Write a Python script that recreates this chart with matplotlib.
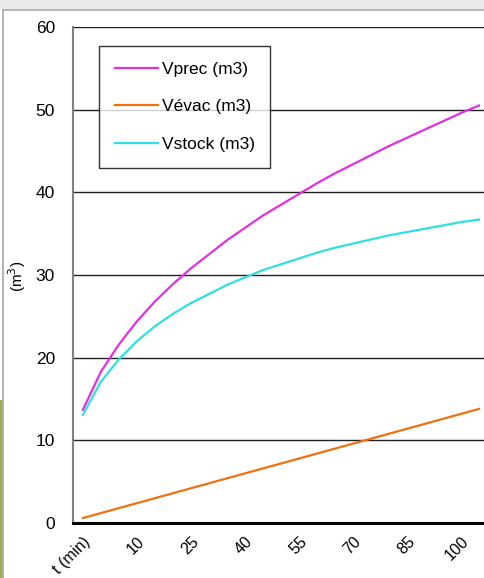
#!/usr/bin/env python

import numpy as np
import matplotlib
matplotlib.use("Agg")
import matplotlib.pyplot as plt
from matplotlib.patches import Rectangle
from matplotlib.lines import Line2D

# categories of the Excel line chart (header row got in as first category)
categories = ["t (min)"] + [str(t) for t in range(0, 110, 5)]

v_prec = [13.7, 18.3, 21.6, 24.4, 26.8, 28.9, 30.8, 32.5, 34.2, 35.7, 37.2, 38.5,
          39.8, 41.1, 42.3, 43.4, 44.5, 45.6, 46.6, 47.6, 48.6, 49.6, 50.5]
v_evac = [0.6, 1.2, 1.8, 2.4, 3.0, 3.6, 4.2, 4.8, 5.4, 6.0, 6.6, 7.2,
          7.8, 8.4, 9.0, 9.6, 10.2, 10.8, 11.4, 12.0, 12.6, 13.2, 13.8]
v_stock = [13.1, 17.1, 19.8, 22.0, 23.8, 25.3, 26.6, 27.7, 28.8, 29.7, 30.6, 31.3,
           32.0, 32.7, 33.3, 33.8, 34.3, 34.8, 35.2, 35.6, 36.0, 36.4, 36.7]

labels = ["Vprec (m3)", "V\u00e9vac (m3)", "Vstock (m3)"]
colors = ["#e030e0", "#f07010", "#30e0e0"]

W, H = 485, 578
fig = plt.figure(figsize=(W / 100, H / 100), dpi=100)
fig.patch.set_facecolor("white")

# screenshot frame bits
fig.patches.append(Rectangle((0, 1 - 9 / H), 1, 9 / H, transform=fig.transFigure,
                             facecolor="#e9e9e9", edgecolor="none", zorder=0))
fig.patches.append(Rectangle((0, 0), 3 / W, 178 / H, transform=fig.transFigure,
                             facecolor="#a3b04a", edgecolor="none", zorder=0))
fig.lines.append(Line2D([3 / W, 1], [1 - 10 / H, 1 - 10 / H], transform=fig.transFigure,
                        color="#a8a8a8", lw=1.2))
fig.lines.append(Line2D([3 / W, 3 / W], [0, 1 - 10 / H], transform=fig.transFigure,
                        color="#a8a8a8", lw=1.2))

left, right, top, bottom = 73, 485, 27, 523
ax = fig.add_axes([left / W, 1 - bottom / H, (right - left) / W, (bottom - top) / H])

x = np.arange(len(categories))
for vals, lab, c in zip([v_prec, v_evac, v_stock], labels, colors):
    ax.plot(x, vals, color=c, lw=1.6, label=lab)

ax.set_xlim(-0.55, 22.33)
ax.set_ylim(0, 60)
ax.set_yticks(range(0, 61, 10))
ax.yaxis.grid(True, color="#202020", lw=1.0)
ax.set_axisbelow(True)
ax.axhline(0, color="black", lw=2.2, clip_on=False, zorder=3)

for s in ["top", "right", "bottom"]:
    ax.spines[s].set_visible(False)
ax.spines["left"].set_color("#808080")
ax.spines["left"].set_linewidth(1.5)

ax.set_xticks(x[::3])
ax.set_xticklabels(categories[::3], rotation=45, ha="right", rotation_mode="anchor",
                   fontsize=11.5, family="Liberation Sans")
ax.tick_params(axis="both", length=0)
ax.tick_params(axis="x", pad=8)
ax.tick_params(axis="y", pad=13)
for t in ax.get_yticklabels():
    t.set_fontsize(12.5)
    t.set_family("Liberation Sans")

fig.text(17 / W, 1 - 276 / H, "(m$^3$)", rotation=90, ha="center", va="center",
         fontsize=11, family="Liberation Sans")

leg = ax.legend(loc="upper left", bbox_to_anchor=(99 / W, 1 - 46 / H),
                bbox_transform=fig.transFigure, frameon=True, fancybox=False,
                prop={"family": "Liberation Sans", "size": 12.5},
                labelspacing=1.3, handlelength=2.5, handletextpad=0.2,
                borderpad=0.9, borderaxespad=0)
leg.get_frame().set_edgecolor("black")
leg.get_frame().set_linewidth(1.0)

fig.savefig("out.png", dpi=100)
